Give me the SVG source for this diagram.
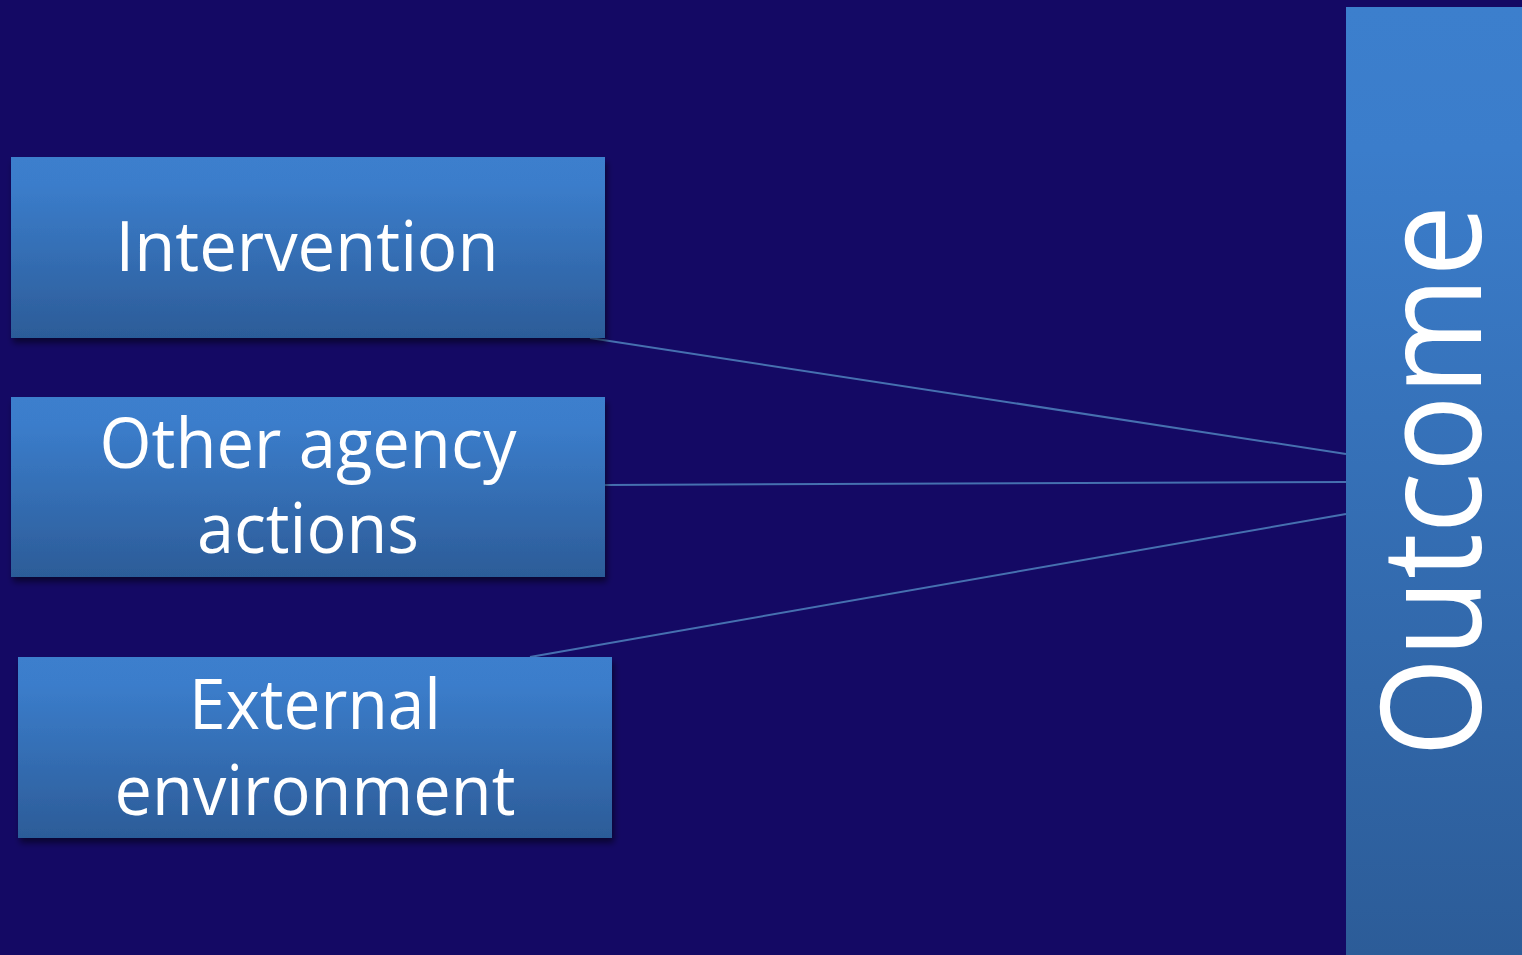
<svg xmlns="http://www.w3.org/2000/svg" width="1522" height="955" viewBox="0 0 1522 955">
<defs>
<linearGradient id="g" x1="0" y1="0" x2="0" y2="1">
<stop offset="0" stop-color="#3c7fcd"/>
<stop offset="0.15" stop-color="#3b7dcb"/>
<stop offset="1" stop-color="#2c5c98"/>
</linearGradient>
<filter id="sh" x="-5%" y="-5%" width="110%" height="120%">
<feGaussianBlur in="SourceAlpha" stdDeviation="3"/>
<feOffset dx="2" dy="5"/>
<feComponentTransfer><feFuncA type="linear" slope="0.5"/></feComponentTransfer>
<feMerge><feMergeNode/><feMergeNode in="SourceGraphic"/></feMerge>
</filter>
</defs>
<style>
.box{fill:url(#g);filter:url(#sh)}
.t{font-family:"Open Sans","Noto Sans",sans-serif;fill:#ffffff;font-size:70px;text-anchor:middle}
.c{stroke:#4670b0;stroke-width:2;fill:none}
</style>
<rect width="1522" height="955" fill="#140964"/>
<g id="connectors">
<line class="c" x1="590" y1="338" x2="1346" y2="454"/>
<line class="c" x1="605" y1="485" x2="1346" y2="482"/>
<line class="c" x1="530" y1="657" x2="1346" y2="514"/>
</g>
<g id="intervention">
<rect class="box" x="11" y="157" width="594" height="181"/>
<text class="t" x="307" y="271" textLength="383" lengthAdjust="spacingAndGlyphs">Intervention</text>
</g>
<g id="other">
<rect class="box" x="11" y="397" width="594" height="180"/>
<text class="t" x="308" y="468" textLength="417" lengthAdjust="spacingAndGlyphs">Other agency</text>
<text class="t" x="308" y="553" textLength="222" lengthAdjust="spacingAndGlyphs">actions</text>
</g>
<g id="external">
<rect class="box" x="18" y="657" width="594" height="181"/>
<text class="t" x="315" y="729" textLength="252" lengthAdjust="spacingAndGlyphs">External</text>
<text class="t" x="315" y="815" textLength="401" lengthAdjust="spacingAndGlyphs">environment</text>
</g>
<g id="outcome">
<rect x="1346" y="7" width="176" height="948" fill="url(#g)"/>
<text class="t" transform="translate(1481 481) rotate(-90)" style="font-size:140px" textLength="552" lengthAdjust="spacingAndGlyphs">Outcome</text>
</g>
</svg>
